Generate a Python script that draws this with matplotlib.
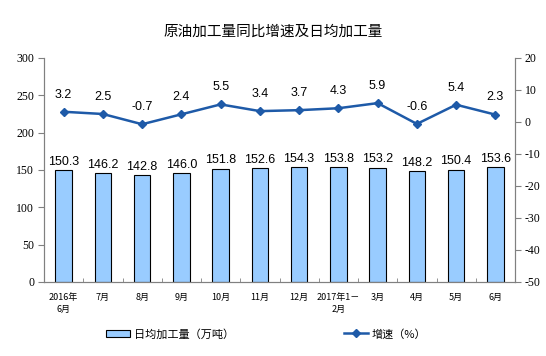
import numpy as np
import matplotlib
matplotlib.use("Agg")
import matplotlib.pyplot as plt
from matplotlib.patches import Patch
from matplotlib.lines import Line2D

plt.rcParams['font.family'] = ['Noto Sans CJK SC', 'DejaVu Sans']
plt.rcParams['axes.unicode_minus'] = False

# data
months = ["2016年\n6月", "7月", "8月", "9月", "10月", "11月", "12月",
          "2017年1－\n2月", "3月", "4月", "5月", "6月"]
daily_output = [150.3, 146.2, 142.8, 146.0, 151.8, 152.6, 154.3, 153.8, 153.2, 148.2, 150.4, 153.6]
growth = [3.2, 2.5, -0.7, 2.4, 5.5, 3.4, 3.7, 4.3, 5.9, -0.6, 5.4, 2.3]
left_ticks = [0, 50, 100, 150, 200, 250, 300]
right_ticks = [-50, -40, -30, -20, -10, 0, 10, 20]

bar_color = "#99CCFF"
line_color = "#1E5AA8"
num_font = "Liberation Sans"
tick_font = "Liberation Serif"

fig = plt.figure(figsize=(5.46, 3.56), dpi=100)
ax = fig.add_axes([44 / 546, 1 - 282 / 356, (515 - 44) / 546, (282 - 58) / 356])
ax2 = ax.twinx()

x = np.arange(len(months))
ax.bar(x, daily_output, width=0.42, color=bar_color, edgecolor="black", linewidth=0.8, zorder=2)
for xi, v in zip(x, daily_output):
    ax.text(xi, v + 3, f"{v:.1f}", ha="center", va="bottom", fontsize=9, family=num_font)

ax.set_xlim(-0.5, len(months) - 0.5)
ax.set_ylim(0, 300)
ax.set_yticks(left_ticks, [str(t) for t in left_ticks], fontsize=8.5, fontfamily=tick_font)
ax.set_xticks(x)
ax.set_xticklabels(months, fontsize=6.5, linespacing=1.4)
ax.tick_params(axis="x", length=0, pad=8)
ax.set_xticks(np.arange(-0.5, len(months), 1), minor=True)
ax.tick_params(axis="x", which="minor", length=3, color="#808080", direction="in")
ax.tick_params(axis="y", length=4, color="#808080", pad=3)

ax2.plot(x, growth, color=line_color, marker="D", markersize=4, linewidth=1.8, zorder=3)
for xi, v in zip(x, growth):
    ax2.text(xi, v + 3.5, f"{v:.1f}", ha="center", va="bottom", fontsize=9, family=num_font)
ax2.set_ylim(-50, 20)
ax2.set_yticks(right_ticks, [str(t) for t in right_ticks], fontsize=8.5, fontfamily=tick_font)
ax2.tick_params(axis="y", length=4, color="#808080", pad=3)

for a in (ax, ax2):
    a.spines["top"].set_visible(False)
    for s in ("left", "right", "bottom"):
        a.spines[s].set_color("#808080")
        a.spines[s].set_linewidth(0.8)

fig.text(0.5, 1 - 32 / 356, "原油加工量同比增速及日均加工量", ha="center", va="center", fontsize=10.5)

handles = [Patch(facecolor=bar_color, edgecolor="black", linewidth=0.8),
           Line2D([0], [0], color=line_color, marker="D", markersize=4, linewidth=1.8)]
fig.legend(handles[:1], ["日均加工量（万吨）"], loc="center", bbox_to_anchor=(170 / 546, 1 - 334 / 356),
           frameon=False, fontsize=8, handlelength=2.2, handletextpad=0.3)
fig.legend(handles[1:], ["增速（%）"], loc="center", bbox_to_anchor=(385 / 546, 1 - 334 / 356),
           frameon=False, fontsize=8, handlelength=2.2, handletextpad=0.3)

fig.savefig("out.png", dpi=100)
